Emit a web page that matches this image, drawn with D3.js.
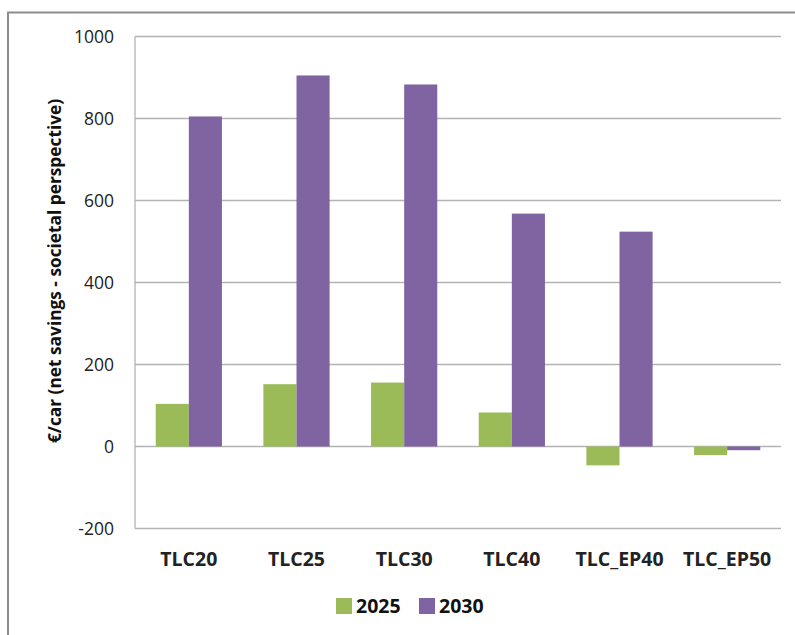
<!DOCTYPE html>
<html><head><meta charset="utf-8">
<script src="https://cdn.jsdelivr.net/npm/d3@7"></script>
<style>body{margin:0;background:#fff;}svg{display:block;}</style>
</head><body>
<script>
const categories = ["TLC20","TLC25","TLC30","TLC40","TLC_EP40","TLC_EP50"];
const seriesNames = ["2025","2030"];
const values2025 = [104, 152, 156, 83, -46, -21];
const values2030 = [805, 905, 883, 568, 524, -9];
const yTicks = [-200, 0, 200, 400, 600, 800, 1000];
const colors = ["#9BBB59", "#8064A2"];

const W = 795, H = 635;
const svg = d3.select("body").append("svg").attr("width", W).attr("height", H);

// outer frame
svg.append("rect").attr("x", 8).attr("y", 12.5).attr("width", 900).attr("height", 800)
  .attr("fill", "none").attr("stroke", "#8c8c8c").attr("stroke-width", 2);

const plotLeft = 135, plotRight = 781, plotTop = 36.5, plotBottom = 528.5;
const y = d3.scaleLinear().domain([-200, 1000]).range([plotBottom, plotTop]);
const x = d3.scaleBand().domain(categories).range([plotLeft, plotRight]).paddingInner(0.385).paddingOuter(0.1925);
const xs = d3.scaleBand().domain(seriesNames).range([0, x.bandwidth()]);

// gridlines
svg.append("g").selectAll("line").data(yTicks).join("line")
  .attr("x1", plotLeft).attr("x2", plotRight)
  .attr("y1", d => y(d)).attr("y2", d => y(d))
  .attr("stroke", "#b3b3b3").attr("stroke-width", 1.3);
// y axis line
svg.append("line").attr("x1", plotLeft).attr("x2", plotLeft).attr("y1", plotTop).attr("y2", plotBottom)
  .attr("stroke", "#b3b3b3").attr("stroke-width", 1.3);

// tick labels
const yAxis = d3.axisLeft(y).tickValues(yTicks).tickSize(0).tickPadding(21).tickFormat(d => String(d));
const ga = svg.append("g").attr("transform", `translate(${plotLeft},0)`).call(yAxis);
ga.select(".domain").remove();
ga.selectAll("text").attr("font-family", "'Open Sans', sans-serif").attr("font-size", 17.5).attr("fill", "#222");

// bars
const data = [values2025, values2030];
const groups = svg.append("g").selectAll("g").data(seriesNames).join("g").attr("fill", (d, i) => colors[i]);
groups.selectAll("rect").data((s, si) => categories.map((c, ci) => ({c, s, v: data[si][ci]}))).join("rect")
  .attr("x", d => x(d.c) + xs(d.s))
  .attr("width", xs.bandwidth())
  .attr("y", d => y(Math.max(0, d.v)))
  .attr("height", d => Math.abs(y(d.v) - y(0)));

// category labels
svg.append("g").selectAll("text").data(categories).join("text")
  .attr("x", d => x(d) + x.bandwidth() / 2).attr("y", 566)
  .attr("text-anchor", "middle")
  .attr("font-family", "'Open Sans', sans-serif").attr("font-weight", "bold").attr("font-size", 19.5)
  .attr("fill", "#222").text(d => d);

// y axis title
svg.append("text").attr("transform", "translate(56,271) rotate(-90)")
  .attr("text-anchor", "middle").attr("dominant-baseline", "middle")
  .attr("font-family", "'Open Sans', sans-serif").attr("font-weight", "bold").attr("font-size", 17.3)
  .attr("fill", "#111").text("€/car (net savings - societal perspective)");

// legend
const legX = [336, 419];
const lg = svg.append("g").selectAll("g").data(seriesNames).join("g")
  .attr("transform", (d, i) => `translate(${legX[i]},598)`);
lg.append("rect").attr("width", 16).attr("height", 16).attr("fill", (d, i) => colors[i]);
lg.append("text").attr("x", 20).attr("y", 15)
  .attr("font-family", "'Open Sans', sans-serif").attr("font-weight", "bold").attr("font-size", 19.5)
  .attr("fill", "#111").text(d => d);
</script>
</body></html>
